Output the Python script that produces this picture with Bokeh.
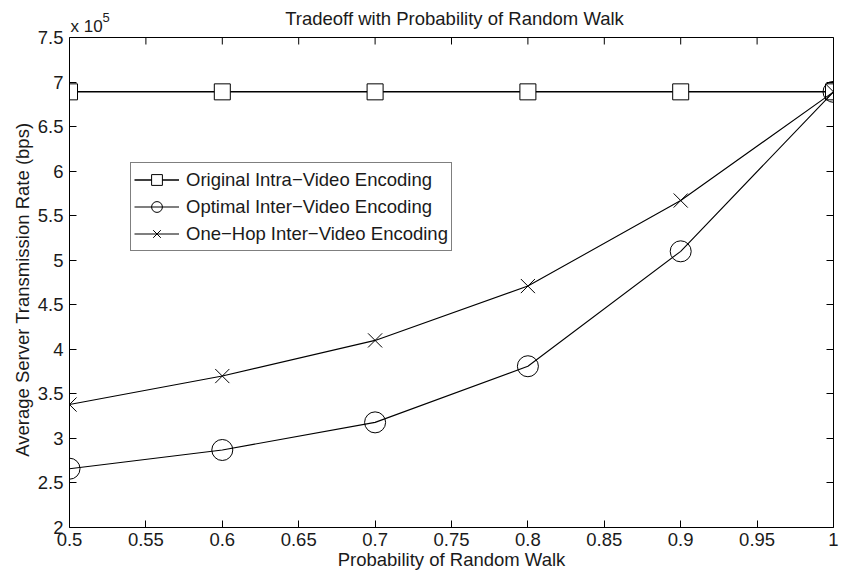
import math
from bokeh.plotting import figure
from bokeh.models import (Range1d, LinearAxis, FixedTicker, CustomJSTickFormatter,
                          Legend, LegendItem, Span)
from bokeh.core.properties import value
from bokeh.embed import file_html
from bokeh.resources import INLINE

# Data (rate in units of 10^5 bps)
prob = [0.5, 0.6, 0.7, 0.8, 0.9, 1.0]
original_intra = [6.89, 6.89, 6.89, 6.89, 6.89, 6.89]
optimal_inter = [2.66, 2.87, 3.18, 3.81, 5.10, 6.89]
onehop_inter = [3.38, 3.70, 4.10, 4.71, 5.67, 6.89]

x_ticks = [0.5, 0.55, 0.6, 0.65, 0.7, 0.75, 0.8, 0.85, 0.9, 0.95, 1.0]
y_ticks = [2, 2.5, 3, 3.5, 4, 4.5, 5, 5.5, 6, 6.5, 7, 7.5]
x_min, x_max = 0.5, 1.0
y_min, y_max = 2.0, 7.5

title_text = "Tradeoff with Probability of Random Walk"
x_label = "Probability of Random Walk"
y_label = "Average Server Transmission Rate (bps)"
exp_base = "x 10"
exp_power = "5"
series_names = ["Original Intra\u2212Video Encoding",
                "Optimal Inter\u2212Video Encoding",
                "One\u2212Hop Inter\u2212Video Encoding"]

FONT = "Liberation Sans"
TXT = "#1a1a1a"

# layout: plot box from y=37px to y=527px of the 573px canvas; the frame reaches up to
# the canvas top so that the title and the exponent can be written above the box.
BOX_TOP_PX, BOX_BOTTOM_PX = 37, 527
y_top = y_max + (y_max - y_min) * BOX_TOP_PX / (BOX_BOTTOM_PX - BOX_TOP_PX)

p = figure(width=844, height=573, output_backend="svg", toolbar_location=None,
           title=None, x_range=Range1d(x_min, x_max), y_range=Range1d(y_min, y_top),
           x_axis_type=None, y_axis_type=None,
           min_border_left=69, min_border_right=11,
           min_border_top=0, min_border_bottom=573 - BOX_BOTTOM_PX)
p.grid.visible = False
p.outline_line_color = None
p.background_fill_color = "white"
p.border_fill_color = "white"

fmt = CustomJSTickFormatter(code="return String(parseFloat(tick.toFixed(2)));")
blank = CustomJSTickFormatter(code="return '';")

def mk_axis(ticks, show_labels, bounds):
    ax = LinearAxis(ticker=FixedTicker(ticks=ticks), formatter=fmt if show_labels else blank,
                    bounds=bounds)
    ax.major_tick_in = 7
    ax.major_tick_out = 0
    ax.minor_tick_in = 0
    ax.minor_tick_out = 0
    ax.minor_tick_line_color = None
    ax.axis_line_color = "black"
    ax.major_tick_line_color = "black"
    ax.major_label_text_font = FONT
    ax.major_label_text_font_size = "18.5px"
    ax.major_label_text_color = TXT
    ax.major_label_standoff = 4 if show_labels else 0
    return ax

xb = mk_axis(x_ticks, True, (x_min, x_max))
xb.major_label_standoff = 5
xb.axis_label = x_label
xb.axis_label_text_font = FONT
xb.axis_label_text_font_size = "18.5px"
xb.axis_label_text_font_style = "normal"
xb.axis_label_text_color = TXT
xb.axis_label_standoff = 0
p.add_layout(xb, "below")

yl = mk_axis(y_ticks, True, (y_min, y_max))
yl.major_label_standoff = 6
# trailing no-break spaces keep the rotated label centred on the box, not on the frame
yl.axis_label = y_label + "\u00a0" * 10
yl.axis_label_text_font = FONT
yl.axis_label_text_font_size = "18.5px"
yl.axis_label_text_font_style = "normal"
yl.axis_label_text_color = TXT
yl.axis_label_standoff = 2
p.add_layout(yl, "left")

p.add_layout(mk_axis(y_ticks, False, (y_min, y_max)), "right")

# top edge of the box and its inward ticks
p.add_layout(Span(location=y_max, dimension="width", line_color="black", line_width=1))
p.ray(x=x_ticks, y=[y_max] * len(x_ticks), length=7, length_units="screen",
      angle=-math.pi / 2, line_color="black", line_width=1)

# Series
l1 = p.line(prob, original_intra, line_color="black", line_width=1.5)
m1 = p.scatter(prob, original_intra, marker="square", size=16,
               line_color="black", fill_color="white", line_width=1)
l2 = p.line(prob, optimal_inter, line_color="black", line_width=1.1)
m2 = p.scatter(prob, optimal_inter, marker="circle", size=21,
               line_color="black", fill_color=None, line_width=1)
l3 = p.line(prob, onehop_inter, line_color="black", line_width=1.1)
m3 = p.scatter(prob, onehop_inter, marker="x", size=20,
               line_color="black", line_width=1)

legend = Legend(items=[LegendItem(label=series_names[0], renderers=[l1, m1]),
                       LegendItem(label=series_names[1], renderers=[l2, m2]),
                       LegendItem(label=series_names[2], renderers=[l3, m3])],
                location=(61, 276))
legend.label_text_font = FONT
legend.label_text_font_size = "18.5px"
legend.label_text_color = TXT
legend.glyph_width = 45
legend.glyph_height = 27
legend.label_height = 22
legend.spacing = 0
legend.padding = 3
legend.margin = 0
legend.label_standoff = 7
legend.border_line_color = "black"
legend.border_line_width = 1
legend.background_fill_color = "white"
legend.background_fill_alpha = 1
p.add_layout(legend, "center")

# title and axis exponent, written above the box
p.text(x=[(x_min + x_max) / 2], y=[y_max], text=[title_text], x_offset=3, y_offset=-19,
       text_align="center", text_baseline="alphabetic", text_font=value(FONT),
       text_font_size="18.5px", text_color=TXT)
p.text(x=[x_min], y=[y_max], text=[exp_base], x_offset=1, y_offset=-11,
       text_align="left", text_baseline="alphabetic", text_font=value(FONT),
       text_font_size="17px", text_color=TXT)
p.text(x=[x_min], y=[y_max], text=[exp_power], x_offset=33, y_offset=-20,
       text_align="left", text_baseline="alphabetic", text_font=value(FONT),
       text_font_size="13px", text_color=TXT)

open("out.html", "w").write(file_html(p, INLINE))
